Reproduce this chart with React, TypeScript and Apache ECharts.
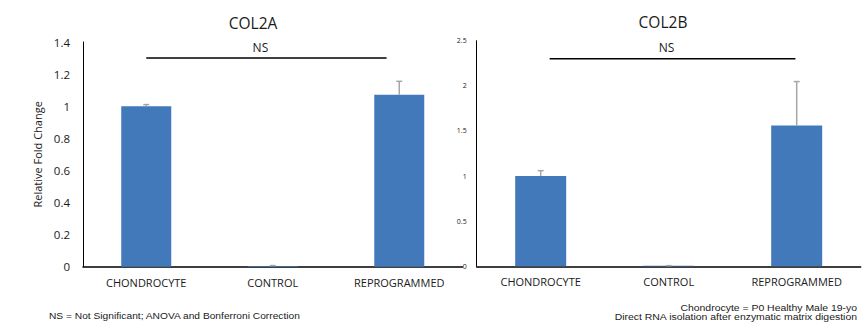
import React, { useEffect, useRef } from "react";
import * as echarts from "echarts";

const categories = ["CHONDROCYTE", "CONTROL", "REPROGRAMMED"];
const col2aValues = [1.0, 0.005, 1.072];
const col2aErrors = [0.01, 0.002, 0.083];
const col2bValues = [1.0, 0.005, 1.56];
const col2bErrors = [0.06, 0.002, 0.487];
const col2aTicks = { min: 0, max: 1.4, interval: 0.2 };
const col2bTicks = { min: 0, max: 2.5, interval: 0.5 };
const nsLevelA = 1.3;
const nsLevelB = 2.3;

const BAR = "#4179BA";
const ERR = "#A6A6A6";
const TXT = "#1a1a1a";
const FONT = "'Open Sans', sans-serif";
const NOTE_FONT = "'Liberation Sans', Arial, sans-serif";

function errSeries(idx: number, values: number[], errs: number[]) {
  return {
    type: "custom",
    xAxisIndex: idx,
    yAxisIndex: idx,
    z: 5,
    data: values.map((v, i) => [i, v, v + errs[i]]),
    renderItem: (params: any, api: any) => {
      const x = api.value(0);
      const lo = api.coord([x, api.value(1)]);
      const hi = api.coord([x, api.value(2)]);
      const cap = 3;
      return {
        type: "group",
        children: [
          {
            type: "line",
            shape: { x1: lo[0], y1: lo[1], x2: hi[0], y2: hi[1] },
            style: { stroke: ERR, lineWidth: 1.5 },
          },
          {
            type: "line",
            shape: { x1: hi[0] - cap, y1: hi[1], x2: hi[0] + cap, y2: hi[1] },
            style: { stroke: ERR, lineWidth: 1.5 },
          },
        ],
      };
    },
  };
}

export default function App() {
  const ref = useRef<HTMLDivElement>(null);
  useEffect(() => {
    if (!ref.current) return;
    const chart = echarts.init(ref.current, undefined, { renderer: "svg" });
    const xAxisBase = (gi: number) => ({
      type: "category",
      gridIndex: gi,
      data: categories,
      axisLine: { lineStyle: { color: "#000", width: 1.5 } },
      axisTick: { show: false },
      axisLabel: { color: TXT, fontSize: 11, fontFamily: FONT, margin: 10 },
    });
    const titleStyle = { fontSize: 15.5, fontWeight: "normal", color: TXT, fontFamily: FONT };
    chart.setOption({
      animation: false,
      title: [
        { text: "COL2A", left: 248, top: 10, textAlign: "center", textStyle: titleStyle },
        { text: "COL2B", left: 658, top: 9, textAlign: "center", textStyle: titleStyle },
      ],
      grid: [
        { left: 83, top: 42, width: 379.5, height: 224.7 },
        { left: 476.7, top: 40.7, width: 384, height: 225.6 },
      ],
      xAxis: [xAxisBase(0), xAxisBase(1)],
      yAxis: [
        {
          type: "value",
          gridIndex: 0,
          ...col2aTicks,
          name: "Relative Fold Change",
          nameLocation: "middle",
          nameGap: 40,
          nameTextStyle: { color: TXT, fontSize: 11, fontFamily: FONT },
          axisLine: { show: true, lineStyle: { color: "#000", width: 1 } },
          axisTick: { show: false },
          splitLine: { show: false },
          axisLabel: {
            color: TXT,
            fontSize: 11.5,
            fontFamily: FONT,
            margin: 13,
            formatter: (v: number) => String(Math.round(v * 10) / 10),
          },
        },
        {
          type: "value",
          gridIndex: 1,
          ...col2bTicks,
          axisLine: { show: true, lineStyle: { color: "#000", width: 1 } },
          axisTick: { show: false },
          splitLine: { show: false },
          axisLabel: {
            color: TXT,
            fontSize: 7,
            fontFamily: FONT,
            margin: 10,
            formatter: (v: number) => String(Math.round(v * 10) / 10),
          },
        },
      ],
      series: [
        {
          type: "bar",
          xAxisIndex: 0,
          yAxisIndex: 0,
          data: col2aValues,
          barWidth: 50,
          itemStyle: { color: BAR },
        },
        errSeries(0, col2aValues, col2aErrors),
        {
          type: "bar",
          xAxisIndex: 1,
          yAxisIndex: 1,
          data: col2bValues,
          barWidth: 51,
          itemStyle: { color: BAR },
        },
        errSeries(1, col2bValues, col2bErrors),
      ],
    });

    const px = (gi: number, cat: number, v: number) =>
      chart.convertToPixel({ xAxisIndex: gi, yAxisIndex: gi } as any, [cat, v]) as number[];
    const bracket = (gi: number, level: number, fStart: number, fEnd: number) => {
      const a = px(gi, 0, level);
      const b = px(gi, 1, level);
      const c = px(gi, 2, level);
      const x1 = a[0] + fStart * (b[0] - a[0]);
      const x2 = b[0] + fEnd * (c[0] - b[0]);
      return [
        {
          type: "line",
          shape: { x1, y1: a[1], x2, y2: a[1] },
          style: { stroke: "#000", lineWidth: 1.5 },
        },
        {
          type: "text",
          x: (x1 + x2) / 2 - 6,
          y: a[1] - 5,
          style: {
            text: "NS",
            fill: TXT,
            fontSize: 12,
            fontFamily: FONT,
            align: "center",
            verticalAlign: "bottom",
          },
        },
      ];
    };

    const note = (text: string, x: number, y: number, align: string, sx: number) => ({
      type: "text",
      x,
      y,
      scaleX: sx,
      style: {
        text,
        fill: TXT,
        fontSize: 9.5,
        fontFamily: NOTE_FONT,
        align,
        verticalAlign: "middle",
      },
    });

    chart.setOption({
      graphic: [
        ...bracket(0, nsLevelA, 0, 0.9),
        ...bracket(1, nsLevelB, 0.07, 0.99),
        note("NS = Not Significant; ANOVA and Bonferroni Correction", 49, 316, "left", 1.075),
        note("Chondrocyte = P0 Healthy Male 19-yo", 857, 307.5, "right", 1.1),
        note("Direct RNA isolation after enzymatic matrix digestion", 857, 316.5, "right", 1.1),
      ],
    });

    return () => chart.dispose();
  }, []);
  return (
    <div
      ref={ref}
      style={{ position: "fixed", left: 0, top: 0, width: 865, height: 327, background: "#fff" }}
    />
  );
}
